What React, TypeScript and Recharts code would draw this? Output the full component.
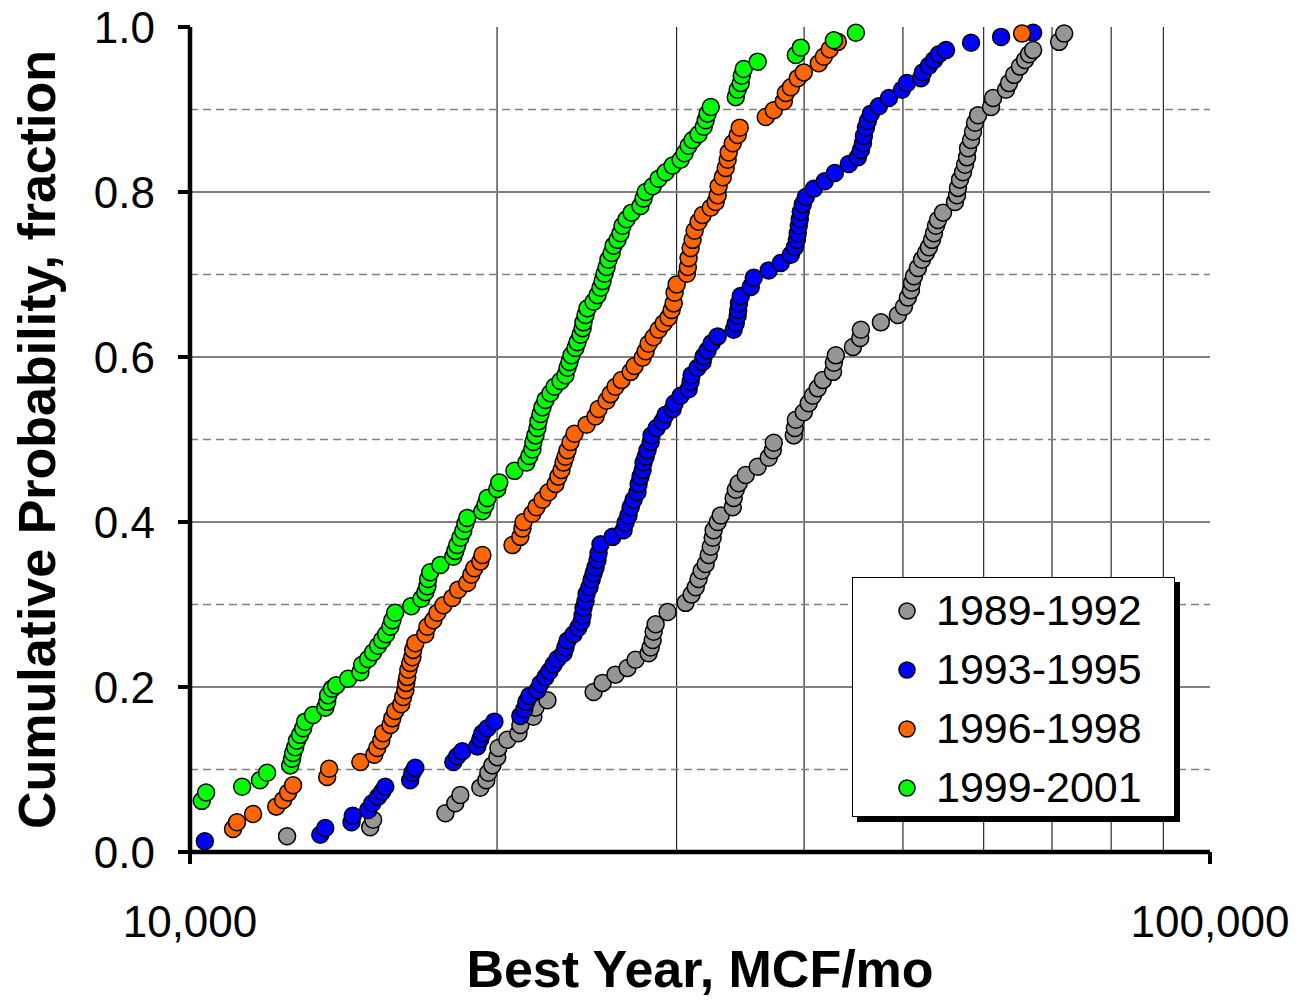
import { ScatterChart, Scatter, XAxis, YAxis, CartesianGrid, Legend, Label } from 'recharts';

const FONT = 'Arial, "Liberation Sans", sans-serif';

// best year rate (MCF/mo) and cumulative fraction
const gray8992X = [12450, 15020, 15120, 17800, 18200, 18410, 19260, 19520, 19610, 19790, 20010, 20060, 20470, 20990, 21080, 21710, 21810, 22410, 24870, 25380, 26130, 26850, 27340, 28160, 28290, 28420, 28480, 28610, 29390, 30610, 31030, 31320, 31520, 31740, 32030, 32250, 32400, 32540, 32610, 32910, 33140, 34050, 34120, 34280, 34510, 35060, 36020, 36930, 37270, 37350, 39080, 39170, 39260, 39970, 40420, 40800, 41250, 41730, 42700, 42780, 42970, 44660, 45400, 45470, 47570, 49430, 50110, 50560, 50910, 51030, 51260, 51720, 52200, 52660, 53020, 53390, 53630, 53870, 54110, 54730, 56230, 56490, 56610, 56870, 57260, 57520, 57780, 57910, 58310, 58570, 58840, 59240, 61000, 61280, 63100, 63530, 64260, 65120, 65870, 66470, 67080, 71130, 71950];
const gray8992Y = [0.019, 0.030, 0.039, 0.047, 0.059, 0.069, 0.078, 0.087, 0.096, 0.105, 0.115, 0.126, 0.136, 0.144, 0.154, 0.164, 0.175, 0.184, 0.194, 0.205, 0.215, 0.223, 0.233, 0.241, 0.248, 0.257, 0.267, 0.276, 0.291, 0.302, 0.312, 0.321, 0.331, 0.341, 0.349, 0.360, 0.370, 0.381, 0.390, 0.400, 0.408, 0.418, 0.429, 0.439, 0.447, 0.457, 0.467, 0.478, 0.487, 0.496, 0.505, 0.514, 0.524, 0.533, 0.544, 0.553, 0.562, 0.572, 0.582, 0.593, 0.602, 0.612, 0.623, 0.633, 0.642, 0.651, 0.661, 0.672, 0.681, 0.690, 0.698, 0.708, 0.718, 0.726, 0.733, 0.742, 0.750, 0.759, 0.766, 0.775, 0.788, 0.796, 0.805, 0.815, 0.824, 0.833, 0.842, 0.853, 0.863, 0.873, 0.884, 0.893, 0.903, 0.914, 0.924, 0.932, 0.942, 0.952, 0.960, 0.967, 0.972, 0.982, 0.992];

const blue9395X = [10340, 13420, 13570, 14400, 14440, 14950, 15090, 15290, 15430, 15540, 16440, 16520, 16630, 18120, 18280, 18490, 19130, 19260, 19350, 19570, 19880, 21080, 21270, 21370, 21510, 21910, 22060, 22310, 22510, 22720, 22920, 23240, 23340, 23450, 23770, 24030, 24200, 24260, 24310, 24420, 24480, 24640, 24760, 24870, 24980, 25090, 25150, 25260, 25960, 26610, 26730, 26910, 27040, 27220, 27460, 27530, 27650, 27780, 27840, 27970, 28090, 28290, 28350, 28670, 29060, 29260, 29730, 29860, 30270, 30820, 30960, 31030, 31450, 31810, 31890, 32170, 32470, 32910, 34120, 34280, 34430, 34470, 34530, 34670, 35460, 35700, 36930, 37950, 38820, 39170, 39350, 39430, 39520, 39610, 39700, 39880, 40150, 40890, 41910, 42870, 44250, 45160, 45470, 45680, 45780, 45990, 46190, 46510, 47350, 48440, 49890, 50450, 52080, 52310, 53020, 53630, 54230, 55100, 58310, 62400, 67080];
const blue9395Y = [0.013, 0.021, 0.029, 0.036, 0.044, 0.051, 0.059, 0.067, 0.073, 0.079, 0.087, 0.096, 0.102, 0.109, 0.116, 0.122, 0.128, 0.137, 0.144, 0.150, 0.158, 0.165, 0.173, 0.182, 0.189, 0.196, 0.204, 0.212, 0.219, 0.227, 0.234, 0.241, 0.248, 0.256, 0.264, 0.272, 0.279, 0.287, 0.296, 0.304, 0.313, 0.321, 0.330, 0.338, 0.345, 0.354, 0.362, 0.373, 0.382, 0.390, 0.399, 0.408, 0.418, 0.427, 0.436, 0.446, 0.455, 0.463, 0.472, 0.479, 0.487, 0.497, 0.505, 0.514, 0.522, 0.530, 0.537, 0.544, 0.553, 0.561, 0.570, 0.578, 0.587, 0.594, 0.601, 0.608, 0.617, 0.625, 0.633, 0.641, 0.650, 0.657, 0.665, 0.674, 0.685, 0.696, 0.705, 0.714, 0.724, 0.733, 0.742, 0.750, 0.759, 0.767, 0.776, 0.785, 0.794, 0.804, 0.813, 0.823, 0.834, 0.842, 0.851, 0.859, 0.868, 0.878, 0.886, 0.895, 0.904, 0.914, 0.924, 0.932, 0.938, 0.945, 0.953, 0.960, 0.967, 0.972, 0.981, 0.988, 0.993];

const orange9698X = [11020, 11120, 11530, 12150, 12340, 12480, 12620, 13630, 13690, 14690, 15160, 15260, 15400, 15470, 15720, 15790, 15890, 16110, 16180, 16260, 16290, 16330, 16370, 16440, 16520, 16550, 16630, 17010, 17090, 17320, 17480, 17720, 18080, 18320, 18700, 18870, 19000, 19260, 19350, 20710, 21080, 21180, 21230, 21660, 21860, 22160, 22460, 22820, 22970, 23130, 23240, 23340, 23450, 23610, 23820, 24480, 24980, 25150, 25610, 25840, 26130, 26490, 27040, 27280, 27780, 27970, 28160, 28480, 28800, 29130, 29460, 29660, 29800, 29860, 30000, 30700, 30770, 30820, 30960, 31100, 31240, 31520, 31810, 32400, 32760, 32910, 32980, 33290, 33510, 33660, 33740, 34050, 34430, 34590, 36680, 37350, 38210, 38380, 38820, 39430, 39970, 41350, 41820, 42380, 43160, 65430];
const orange9698Y = [0.028, 0.036, 0.046, 0.055, 0.063, 0.072, 0.081, 0.091, 0.101, 0.109, 0.118, 0.126, 0.135, 0.144, 0.154, 0.162, 0.171, 0.179, 0.188, 0.196, 0.205, 0.212, 0.221, 0.229, 0.236, 0.245, 0.253, 0.264, 0.273, 0.281, 0.290, 0.299, 0.308, 0.318, 0.326, 0.336, 0.344, 0.352, 0.360, 0.372, 0.382, 0.392, 0.400, 0.410, 0.418, 0.427, 0.436, 0.446, 0.455, 0.463, 0.472, 0.479, 0.487, 0.497, 0.507, 0.518, 0.528, 0.537, 0.547, 0.555, 0.564, 0.572, 0.582, 0.589, 0.599, 0.607, 0.616, 0.624, 0.633, 0.641, 0.648, 0.657, 0.665, 0.678, 0.688, 0.701, 0.709, 0.720, 0.732, 0.742, 0.753, 0.764, 0.772, 0.781, 0.788, 0.796, 0.807, 0.818, 0.829, 0.839, 0.848, 0.859, 0.869, 0.878, 0.891, 0.899, 0.910, 0.920, 0.927, 0.938, 0.945, 0.956, 0.964, 0.973, 0.982, 0.992];

const green9901X = [10270, 10370, 11250, 11710, 11900, 12540, 12590, 12620, 12680, 12730, 12820, 12910, 12970, 13200, 13570, 13630, 13660, 13780, 13910, 14290, 14690, 14750, 14950, 15120, 15290, 15430, 15570, 15720, 15790, 15890, 16480, 16860, 17010, 17090, 17120, 17200, 17600, 18120, 18200, 18280, 18410, 18530, 18620, 18700, 19350, 19480, 19570, 20010, 20100, 20800, 21370, 21510, 21660, 21710, 21810, 21910, 21960, 22060, 22160, 22310, 22560, 22770, 23080, 23340, 23450, 23550, 23660, 23870, 23980, 24150, 24260, 24310, 24420, 24530, 24870, 25090, 25260, 25380, 25490, 25610, 25720, 25900, 26020, 26250, 26430, 26550, 26790, 27100, 27650, 27840, 27970, 28420, 28800, 29260, 29730, 30270, 30540, 30820, 31100, 31520, 31890, 32030, 32170, 32400, 34280, 34430, 34670, 34750, 34900, 36020, 39260, 39700, 42780, 44960];
const green9901Y = [0.062, 0.072, 0.079, 0.087, 0.096, 0.105, 0.113, 0.120, 0.127, 0.135, 0.142, 0.150, 0.158, 0.166, 0.175, 0.182, 0.190, 0.198, 0.202, 0.210, 0.218, 0.227, 0.234, 0.242, 0.250, 0.257, 0.264, 0.273, 0.281, 0.290, 0.298, 0.307, 0.315, 0.322, 0.331, 0.339, 0.348, 0.358, 0.365, 0.372, 0.381, 0.389, 0.398, 0.405, 0.413, 0.421, 0.429, 0.440, 0.448, 0.462, 0.472, 0.480, 0.488, 0.497, 0.505, 0.514, 0.522, 0.531, 0.539, 0.548, 0.556, 0.564, 0.571, 0.578, 0.587, 0.594, 0.602, 0.611, 0.618, 0.627, 0.635, 0.642, 0.651, 0.659, 0.667, 0.675, 0.684, 0.692, 0.701, 0.709, 0.718, 0.726, 0.735, 0.742, 0.750, 0.759, 0.767, 0.775, 0.783, 0.792, 0.800, 0.807, 0.816, 0.824, 0.832, 0.839, 0.847, 0.856, 0.863, 0.870, 0.879, 0.887, 0.895, 0.903, 0.915, 0.924, 0.932, 0.941, 0.949, 0.958, 0.966, 0.975, 0.984, 0.993];

const seriesNames = ['1989-1992', '1993-1995', '1996-1998', '1999-2001'];
const seriesColors = ['#969696', '#0000FF', '#FF6600', '#00FF00'];

const xTicks = [10000, 100000];
const xMinorGrid = [20000, 30000, 40000, 50000, 60000, 70000, 80000, 90000];
const yTicks = [0, 0.2, 0.4, 0.6, 0.8, 1.0];
const ySolidGrid = [0.2, 0.4, 0.6, 0.8];
const yDashedGrid = [0.1, 0.3, 0.5, 0.7, 0.9];

const toPoints = (xs: number[], ys: number[]) => xs.map((x, i) => ({ x, y: ys[i] }));

const series = [
  toPoints(gray8992X, gray8992Y),
  toPoints(blue9395X, blue9395Y),
  toPoints(orange9698X, orange9698Y),
  toPoints(green9901X, green9901Y),
];

const dotShape = (fill: string) => (props: any) => (
  <circle cx={props.cx} cy={props.cy} r={8.5} fill={fill} stroke="#000" strokeWidth={1.5} />
);

const LegendBox = () => (
  <div
    style={{
      width: 321,
      height: 235,
      border: '1px solid #000',
      background: '#fff',
      boxShadow: '5px 5px 0 #000',
      paddingTop: 3,
      boxSizing: 'content-box',
      fontFamily: FONT,
      fontSize: 43,
      color: '#000',
    }}
  >
    {seriesNames.map((name, i) => (
      <div key={name} style={{ display: 'flex', alignItems: 'center', height: 59, lineHeight: '59px' }}>
        <svg width={20} height={20} style={{ marginLeft: 44, marginRight: 19 }}>
          <circle cx={10} cy={10} r={8} fill={seriesColors[i]} stroke="#000" strokeWidth={1.5} />
        </svg>
        <span>{name}</span>
      </div>
    ))}
  </div>
);

const borderLine = { stroke: '#000', strokeWidth: 4.5 };
const tickStyle = { fontSize: 44, fill: '#000', fontFamily: FONT };
const titleStyle = { fontSize: 52, fontWeight: 'bold', fill: '#000', fontFamily: FONT };

export default function App() {
  return (
    <div style={{ position: 'absolute', left: 0, top: 0, background: '#fff' }}>
      <ScatterChart width={1302} height={1000} margin={{ top: 27, right: 92, bottom: 0, left: 0 }}>
        <CartesianGrid horizontal={false} verticalValues={xMinorGrid} stroke="#000" strokeWidth={1} />
        <CartesianGrid vertical={false} horizontalValues={yDashedGrid} stroke="#808080" strokeWidth={1.5} strokeDasharray="8 5" />
        <CartesianGrid vertical={false} horizontalValues={ySolidGrid} stroke="#808080" strokeWidth={2} />
        <XAxis
          dataKey="x"
          type="number"
          scale="log"
          domain={[10000, 100000]}
          ticks={xTicks}
          interval={0}
          tickFormatter={(v: number) => v.toLocaleString('en-US')}
          height={148}
          tickSize={12}
          tickMargin={42}
          tick={tickStyle}
          axisLine={borderLine}
          tickLine={{ stroke: '#000', strokeWidth: 4 }}
        >
          <Label value="Best Year, MCF/mo" position="insideBottom" offset={13} style={titleStyle} />
        </XAxis>
        <XAxis xAxisId="top" orientation="top" type="number" domain={[0, 1]} height={0} tick={false} tickLine={false} axisLine={borderLine} />
        <YAxis
          dataKey="y"
          type="number"
          domain={[0, 1]}
          ticks={yTicks}
          interval={0}
          tickFormatter={(v: number) => v.toFixed(1)}
          width={190}
          tickSize={12}
          tickMargin={23}
          tick={tickStyle}
          axisLine={borderLine}
          tickLine={{ stroke: '#000', strokeWidth: 4 }}
        >
          <Label
            value="Cumulative Probability, fraction"
            angle={-90}
            position="insideLeft"
            offset={37}
            style={{ ...titleStyle, textAnchor: 'middle' }}
          />
        </YAxis>
        <YAxis yAxisId="right" orientation="right" type="number" domain={[0, 1]} width={0} tick={false} tickLine={false} axisLine={borderLine} />
        {series.map((data, i) => (
          <Scatter
            key={seriesNames[i]}
            name={seriesNames[i]}
            data={data}
            fill={seriesColors[i]}
            shape={dotShape(seriesColors[i])}
            isAnimationActive={false}
          />
        ))}
        <Legend
          layout="vertical"
          align="center"
          verticalAlign="middle"
          content={() => <LegendBox />}
          wrapperStyle={{ left: 852, top: 577, width: 'auto', height: 'auto' }}
        />
      </ScatterChart>
    </div>
  );
}
